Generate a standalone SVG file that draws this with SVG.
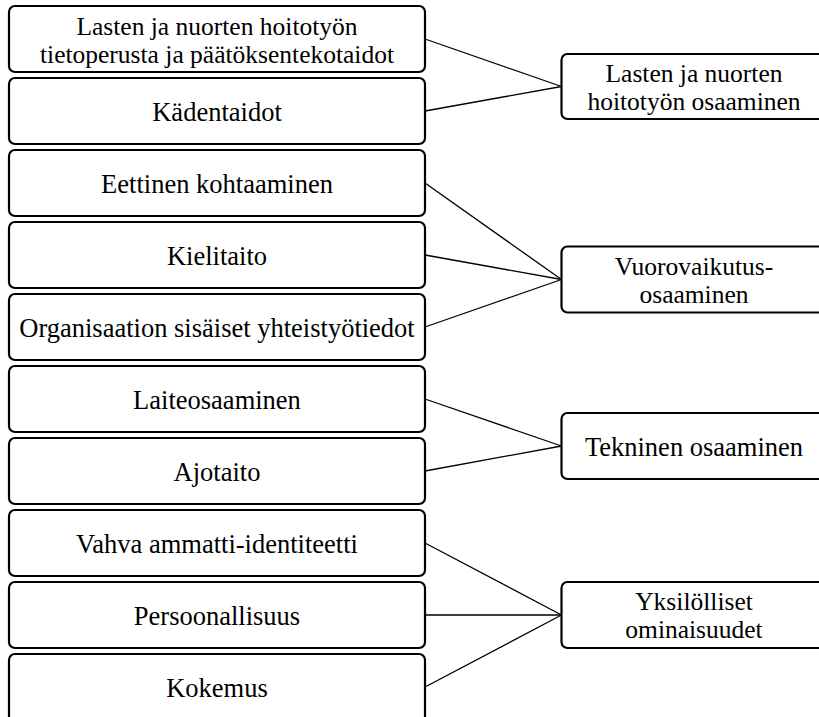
<svg xmlns="http://www.w3.org/2000/svg" width="819" height="717" viewBox="0 0 819 717">
<style>
.box{fill:#fff;stroke:#000;stroke-width:2.2}
.t{font-family:"Liberation Serif","Times New Roman",serif;font-size:26.5px;fill:#000;text-anchor:middle}
.t2{font-family:"Liberation Serif","Times New Roman",serif;font-size:25.5px;fill:#000;text-anchor:middle}
.c{stroke:#000;stroke-width:1.3;fill:none}
</style>
<rect width="819" height="717" fill="#fff"/>
<g id="connectors">
<line class="c" x1="425" y1="39" x2="561.5" y2="86.5"/>
<line class="c" x1="425" y1="111" x2="561.5" y2="86.5"/>
<line class="c" x1="425" y1="183" x2="561.5" y2="279.5"/>
<line class="c" x1="425" y1="255" x2="561.5" y2="279.5"/>
<line class="c" x1="425" y1="327" x2="561.5" y2="279.5"/>
<line class="c" x1="425" y1="399" x2="561.5" y2="446"/>
<line class="c" x1="425" y1="471" x2="561.5" y2="446"/>
<line class="c" x1="425" y1="543" x2="561.5" y2="615"/>
<line class="c" x1="425" y1="615" x2="561.5" y2="615"/>
<line class="c" x1="425" y1="687" x2="561.5" y2="615"/>
</g>
<g id="n1"><rect class="box" x="9" y="6" width="416" height="66" rx="6"/><text class="t2" x="217" y="34.5">Lasten ja nuorten hoitotyön</text><text class="t2" x="217" y="62.5">tietoperusta ja päätöksentekotaidot</text></g>
<g id="n2"><rect class="box" x="9" y="78" width="416" height="66" rx="6"/><text class="t" x="217" y="120.5">Kädentaidot</text></g>
<g id="n3"><rect class="box" x="9" y="150" width="416" height="66" rx="6"/><text class="t" x="217" y="192.5">Eettinen kohtaaminen</text></g>
<g id="n4"><rect class="box" x="9" y="222" width="416" height="66" rx="6"/><text class="t" x="217" y="264.5">Kielitaito</text></g>
<g id="n5"><rect class="box" x="9" y="294" width="416" height="66" rx="6"/><text class="t" x="217" y="336.5">Organisaation sisäiset yhteistyötiedot</text></g>
<g id="n6"><rect class="box" x="9" y="366" width="416" height="66" rx="6"/><text class="t" x="217" y="408.5">Laiteosaaminen</text></g>
<g id="n7"><rect class="box" x="9" y="438" width="416" height="66" rx="6"/><text class="t" x="217" y="480.5">Ajotaito</text></g>
<g id="n8"><rect class="box" x="9" y="510" width="416" height="66" rx="6"/><text class="t" x="217" y="552.5">Vahva ammatti-identiteetti</text></g>
<g id="n9"><rect class="box" x="9" y="582" width="416" height="66" rx="6"/><text class="t" x="217" y="624.5">Persoonallisuus</text></g>
<g id="n10"><rect class="box" x="9" y="654" width="416" height="70" rx="6"/><text class="t" x="217" y="696.5">Kokemus</text></g>
<g id="r1"><rect class="box" x="561.5" y="54" width="265" height="65" rx="6"/><text class="t2" x="694" y="81.5">Lasten ja nuorten</text><text class="t2" x="694" y="109.5">hoitotyön osaaminen</text></g>
<g id="r2"><rect class="box" x="561.5" y="246.5" width="265" height="66" rx="6"/><text class="t2" x="694" y="274.5">Vuorovaikutus-</text><text class="t2" x="694" y="302.5">osaaminen</text></g>
<g id="r3"><rect class="box" x="561.5" y="413" width="265" height="66" rx="6"/><text class="t" x="694" y="455.5">Tekninen osaaminen</text></g>
<g id="r4"><rect class="box" x="561.5" y="582" width="265" height="66" rx="6"/><text class="t2" x="694" y="609.5">Yksilölliset</text><text class="t2" x="694" y="637.5">ominaisuudet</text></g>
</svg>
